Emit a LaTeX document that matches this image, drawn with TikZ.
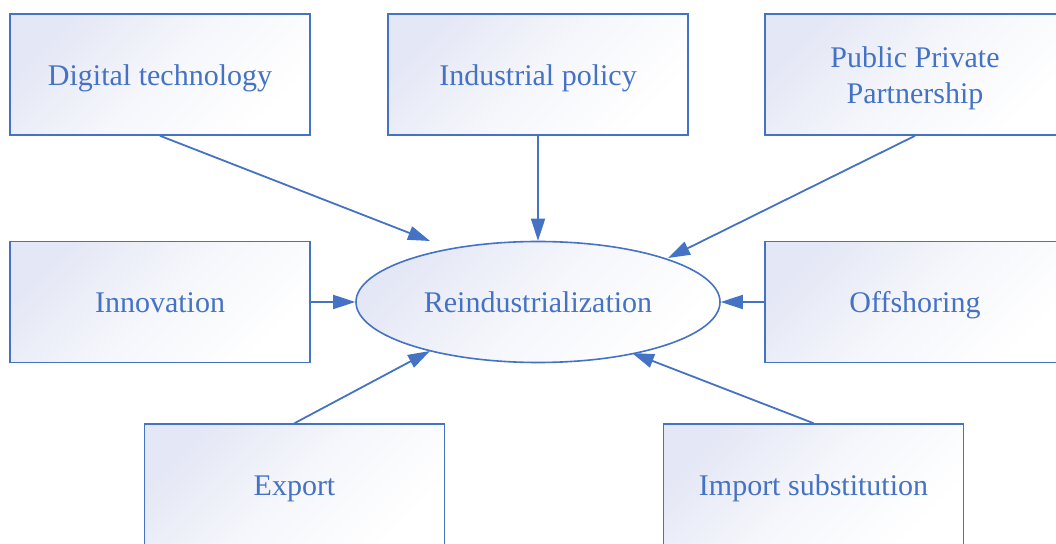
\documentclass[tikz,border=0pt]{standalone}
\usepackage{fontspec}
\setmainfont{Liberation Serif}
\usetikzlibrary{positioning, arrows.meta, shapes.geometric}
\definecolor{linkblue}{HTML}{4472C4}
\definecolor{boxfill}{RGB}{228,231,245}
\tikzset{
    x=1pt, y=1pt,
    on grid,
    factor/.style={rectangle, draw=linkblue, line width=1.6pt,
        minimum width=300pt, minimum height=121pt,
        top color=boxfill, bottom color=white,
        middle color=boxfill!35!white, shading angle=45,
        text=linkblue, font=\fontsize{30}{36}\selectfont, align=center,
        text height=28pt, text depth=6.5pt},
    target/.style={factor, ellipse, inner sep=0pt,
        minimum width=364pt, minimum height=121pt},
    link/.style={color=linkblue, line width=1.8pt,
        -{Triangle[length=22pt,width=14pt]}},
}
\begin{document}
\begin{tikzpicture}
    \useasboundingbox (0,0) rectangle (1056,543);
        \node[target] (re) at (538,241) {Reindustrialization};
        \node[factor, above left=227.5pt and 378pt of re] (dt) {Digital technology};
        \node[factor, above=227.5pt of re] (ip) {Industrial policy};
        \node[factor, text height=64pt, above right=227.5pt and 377pt of re] (pp) {Public Private\\Partnership};
        \node[factor, left=378pt of re] (in) {Innovation};
        \node[factor, right=377pt of re] (of) {Offshoring};
        \node[factor, below left=182.5pt and 243.5pt of re] (ex) {Export};
        \node[factor, below right=182.5pt and 275.5pt of re] (is) {Import substitution};

        \coordinate[above left=61pt and 108pt of re] (dt-tip);
        \coordinate[above right=44pt and 130pt of re] (pp-tip);
        \coordinate[below left=49pt and 108pt of re] (ex-tip);
        \coordinate[below right=51pt and 94pt of re] (is-tip);

    \path
        (dt.south) edge[link] (dt-tip)
        (ip.south) edge[link] (re.north)
        (pp.south) edge[link] (pp-tip)
        (in.east) edge[link] (re.west)
        (of.west) edge[link] (re.east)
        (ex.north) edge[link] (ex-tip)
        (is.north) edge[link] (is-tip);
\end{tikzpicture}
\end{document}
